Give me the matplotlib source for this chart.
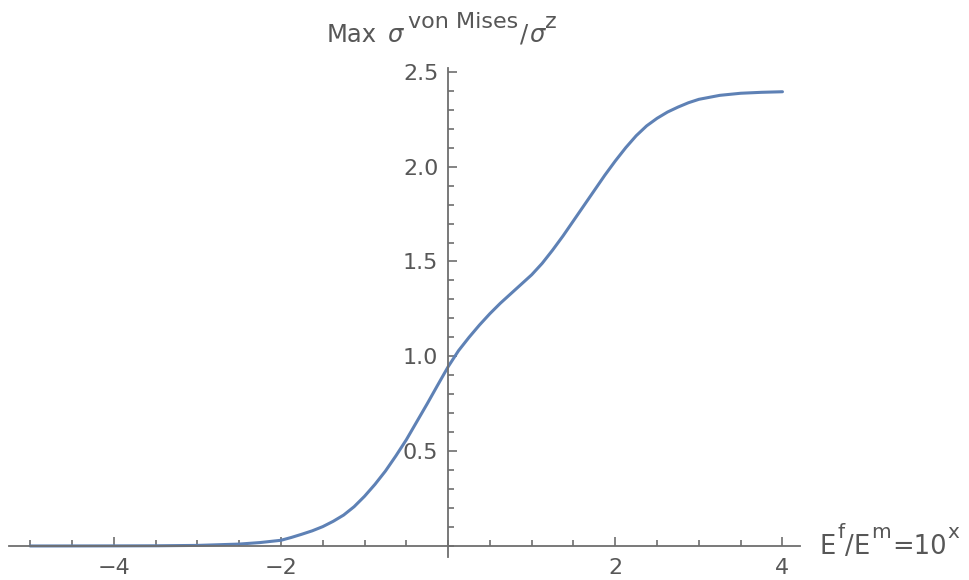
import matplotlib.pyplot as plt
from matplotlib.ticker import MultipleLocator, FixedLocator

plt.rcParams["font.family"] = ["DejaVu Sans"]

# stiffness ratio exponent x (E^f/E^m = 10^x) and normalised peak von Mises stress
log_ratio = [-5.0, -4.5, -4.0, -3.5, -3.0, -2.5, -2.25, -2.0, -1.875, -1.75,
             -1.625, -1.5, -1.375, -1.25, -1.125, -1.0, -0.875, -0.75, -0.625, -0.5,
             -0.375, -0.25, -0.125, 0.0, 0.125, 0.25, 0.375, 0.5, 0.625, 0.75,
             0.875, 1.0, 1.125, 1.25, 1.375, 1.5, 1.625, 1.75, 1.875, 2.0,
             2.125, 2.25, 2.375, 2.5, 2.625, 2.75, 2.875, 3.0, 3.25, 3.5,
             3.75, 4.0]
max_stress = [0.0, 0.0002, 0.0005, 0.001, 0.003, 0.01, 0.018, 0.03, 0.045, 0.062,
              0.08, 0.102, 0.13, 0.163, 0.207, 0.262, 0.325, 0.395, 0.475, 0.56,
              0.655, 0.75, 0.848, 0.945, 1.03, 1.10, 1.165, 1.225, 1.28, 1.33,
              1.38, 1.43, 1.49, 1.56, 1.635, 1.715, 1.795, 1.875, 1.955, 2.03,
              2.10, 2.163, 2.215, 2.255, 2.288, 2.314, 2.337, 2.355, 2.376, 2.387,
              2.392, 2.395]

x_major = [-4, -2, 2, 4]
y_major = [0.5, 1.0, 1.5, 2.0, 2.5]
y_labels = ["0.5", "1.0", "1.5", "2.0", "2.5"]

# axis titles as (text, size, rise px, style, gap px before)
y_title = [("Max", 17.5, 0, "normal", 0),
           ("\u03c3", 17.5, 0, "italic", 10),
           ("von Mises", 16, 14, "normal", 5),
           ("/", 17.5, 0, "normal", 2),
           ("\u03c3", 17.5, 0, "italic", 1),
           ("z", 16, 14, "normal", 1)]
x_title = [("E", 18.5, 0, "normal", 0),
           ("f", 14.5, 16, "normal", 1),
           ("/", 18.5, 0, "normal", 1),
           ("E", 18.5, 0, "normal", 0),
           ("m", 14.5, 16, "normal", 1),
           ("=10", 18.5, 0, "normal", 1),
           ("x", 14.5, 16, "normal", 1)]

axis_col = "#6e6e6e"
text_col = "#575757"
W, H = 969, 580

fig = plt.figure(figsize=(W / 100, H / 100), dpi=100)
ax = fig.add_axes([0.0096, 0.0397, 0.816, 0.843])

ax.plot(log_ratio, max_stress, color="#5E81B5", lw=2.2, solid_capstyle="round")

ax.set_xlim(-5.25, 4.21)
ax.set_ylim(-0.058, 2.52)

ax.spines["left"].set_position(("data", 0))
ax.spines["bottom"].set_position(("data", 0))
ax.spines["top"].set_visible(False)
ax.spines["right"].set_visible(False)
for s in ("left", "bottom"):
    ax.spines[s].set_color(axis_col)
    ax.spines[s].set_linewidth(1.3)

ax.xaxis.set_major_locator(FixedLocator(x_major))
ax.xaxis.set_minor_locator(MultipleLocator(0.5))
ax.yaxis.set_major_locator(FixedLocator(y_major))
ax.yaxis.set_minor_locator(MultipleLocator(0.1))
ax.set_xticklabels([f"\u2212{abs(v)}" if v < 0 else str(v) for v in x_major])
ax.set_yticklabels(y_labels)

ax.tick_params(which="both", direction="in", color=axis_col, width=1.2,
               labelcolor=text_col, labelsize=16)
ax.tick_params(which="major", length=6.5)
ax.tick_params(which="minor", length=4.3)
ax.tick_params(axis="x", pad=8.5)
ax.tick_params(axis="y", pad=7)

renderer = fig.canvas.get_renderer()


def write_pieces(pieces, x0, baseline):
    # lay out super/normal text pieces left to right, in pixels from top-left
    x = x0
    for txt, size, rise, style, gap in pieces:
        x += gap
        t = fig.text(x / W, 1 - (baseline - rise) / H, txt, ha="left",
                     va="baseline", fontsize=size, fontstyle=style, color=text_col)
        x += t.get_window_extent(renderer).width


write_pieces(y_title, 327, 42)
write_pieces(x_title, 820, 554)

fig.savefig("out.png", dpi=100)
